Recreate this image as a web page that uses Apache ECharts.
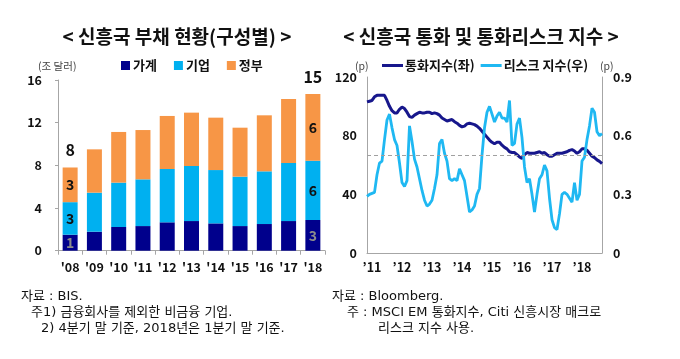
<!DOCTYPE html>
<html><head><meta charset="utf-8">
<script src="https://cdn.jsdelivr.net/npm/echarts@6/dist/echarts.min.js"></script>
<style>html,body{margin:0;padding:0;background:#fff}#c{width:680px;height:359px}</style>
</head><body><div id="c"></div>
<script>
// ---- Bar chart data (조 달러) ----
const barCategories = ["'08","'09","'10","'11","'12","'13","'14","'15","'16","'17","'18"];
const household  = [1.5, 1.78, 2.22, 2.31, 2.66, 2.78, 2.56, 2.31, 2.5, 2.78, 2.88];
const corporate  = [3.05, 3.66, 4.16, 4.38, 5.0, 5.16, 5.0, 4.63, 4.94, 5.44, 5.56];
const government = [3.25, 4.06, 4.75, 4.62, 4.97, 5.0, 4.91, 4.59, 5.25, 6.0, 6.25];
const householdLabels  = ['1','','','','','','','','','','3'];
const corporateLabels  = ['3','','','','','','','','','','6'];
const governmentLabels = ['3','','','','','','','','','','6'];
const totalLabels      = ['8','','','','','','','','','','15'];
const barYTicks = [0, 4, 8, 12, 16];

// ---- Line chart data (monthly, 2010-11 .. 2018-09) ----
const lineStart = {year: 2010, month: 11};
const currencyIndex = [103,103.5,104,106.5,107.5,107.5,107.5,107.5,104,100,97,95.5,95.5,98,99.5,98.5,96,93,92.5,94,
  95,96,95.5,95.5,96,96,95,95.5,95,94,92,91,90,90.5,91,89.5,88.5,87,86,86.5,
  88,88.5,88,87.5,86.5,85,83,81,79,77,75.5,74.5,75.5,75.5,73.5,72,71,69,68.5,68.5,
  67,65.5,64.5,67,68.5,68,68,68,68.5,69,68,68.5,67,66,66,67,68,68,68,68.5,
  69,70,70.5,69.5,68,69,71,71,70,68,66,65,63.5,62.5,61];
const riskIndex = [0.29,0.30,0.305,0.31,0.40,0.46,0.47,0.58,0.68,0.71,0.64,0.58,0.55,0.46,0.36,0.34,0.37,0.65,0.57,0.48,
  0.44,0.38,0.32,0.27,0.24,0.25,0.27,0.33,0.40,0.56,0.58,0.51,0.47,0.38,0.37,0.38,0.37,0.43,0.40,0.37,
  0.29,0.21,0.22,0.24,0.30,0.33,0.50,0.64,0.72,0.75,0.71,0.67,0.70,0.72,0.69,0.69,0.67,0.78,0.55,0.56,
  0.66,0.69,0.59,0.44,0.36,0.38,0.30,0.21,0.30,0.38,0.40,0.45,0.42,0.28,0.17,0.13,0.12,0.20,0.30,0.31,
  0.30,0.28,0.26,0.36,0.27,0.30,0.47,0.49,0.58,0.65,0.74,0.72,0.62,0.60,0.61];
const riskThreshold = 0.5;

const months = [];
{ let y = lineStart.year, m = lineStart.month;
  for (let i = 0; i < currencyIndex.length; i++) {
    months.push(y + '-' + String(m).padStart(2,'0'));
    m++; if (m > 12) { m = 1; y++; }
  } }

const FONT = '"Noto Sans CJK KR", "Noto Sans", sans-serif';
const NOTE_FONT = '13px "DejaVu Sans", "Noto Sans CJK KR", sans-serif';
const C_HH = '#00008C', C_CORP = '#00B0F0', C_GOV = '#F79646';
const C_LINE1 = '#17178C', C_LINE2 = '#1FB8F2';
const AXIS = '#A6A6A6';

function labelled(arr, labels, color) {
  return arr.map((v, i) => labels[i] ? {value: v, label: {show: true, formatter: labels[i], color: color}} : v);
}
const totals = household.map((v, i) => v + corporate[i] + government[i]);

const chart = echarts.init(document.getElementById('c'), null, {renderer: 'canvas'});
const option = {
  animation: false,
  textStyle: {fontFamily: FONT},
  legend: [
    {data: ['가계','기업','정부'], left: 116, top: 54, itemWidth: 9, itemHeight: 9, itemGap: 17,
     icon: 'rect', textStyle: {fontFamily: FONT, fontSize: 13, fontWeight: 'bold', color: '#111', padding: [0,0,0,-2]}},
    {data: ['통화지수(좌)','리스크 지수(우)'], left: 377, top: 54, itemWidth: 21, itemHeight: 3, itemGap: 6,
     icon: 'rect', textStyle: {fontFamily: FONT, fontSize: 13, fontWeight: 'bold', color: '#111', padding: [0,0,0,-3]}}
  ],
  grid: [
    {left: 58, right: 355, top: 80, bottom: 108.3},
    {left: 367, right: 78, top: 77, bottom: 106}
  ],
  xAxis: [
    {type: 'category', gridIndex: 0, data: barCategories,
     axisLine: {lineStyle: {color: AXIS}}, axisTick: {show: true, length: 4, lineStyle: {color: AXIS}},
     axisLabel: {color: '#111', fontSize: 12.5, fontWeight: 'bold', margin: 10, fontFamily: FONT, interval: 0, hideOverlap: false}},
    {type: 'category', gridIndex: 1, data: months, boundaryGap: false,
     axisLine: {lineStyle: {color: AXIS}}, axisTick: {show: false},
     axisLabel: {color: '#111', fontSize: 12.5, fontWeight: 'bold', margin: 8, fontFamily: FONT,
       interval: (idx, val) => val.endsWith('-01'),
       formatter: val => '\u2019' + val.slice(2, 4)}}
  ],
  yAxis: [
    {type: 'value', gridIndex: 0, min: barYTicks[0], max: barYTicks[barYTicks.length-1], interval: 4,
     splitLine: {show: false}, axisLine: {show: true, lineStyle: {color: AXIS}},
     axisTick: {show: true, length: 3, lineStyle: {color: AXIS}},
     axisLabel: {color: '#111', fontSize: 12.5, fontWeight: 'bold', margin: 16, fontFamily: FONT}},
    {type: 'value', gridIndex: 1, min: 0, max: 120, interval: 40, position: 'left',
     splitLine: {show: false}, axisLine: {show: true, lineStyle: {color: AXIS}},
     axisTick: {show: false},
     axisLabel: {color: '#111', fontSize: 12.5, fontWeight: 'bold', margin: 10, fontFamily: FONT}},
    {type: 'value', gridIndex: 1, min: 0, max: 0.9, interval: 0.3, position: 'right',
     splitLine: {show: false}, axisLine: {show: true, lineStyle: {color: AXIS}},
     axisTick: {show: false},
     axisLabel: {color: '#111', fontSize: 12.5, fontWeight: 'bold', margin: 11, fontFamily: FONT,
       formatter: v => v === 0 ? '0' : v.toFixed(1)}}
  ],
  series: [
    {name: '가계', type: 'bar', stack: 'd', xAxisIndex: 0, yAxisIndex: 0, barWidth: 15,
     itemStyle: {color: C_HH}, data: labelled(household, householdLabels, '#8C8C8C'),
     label: {show: false, position: 'inside', fontSize: 14, fontWeight: 'bold', fontFamily: FONT}},
    {name: '기업', type: 'bar', stack: 'd', xAxisIndex: 0, yAxisIndex: 0, barWidth: 15,
     itemStyle: {color: C_CORP}, data: labelled(corporate, corporateLabels, '#111'),
     label: {show: false, position: 'inside', fontSize: 14, fontWeight: 'bold', fontFamily: FONT}},
    {name: '정부', type: 'bar', stack: 'd', xAxisIndex: 0, yAxisIndex: 0, barWidth: 15,
     itemStyle: {color: C_GOV}, data: labelled(government, governmentLabels, '#111'),
     label: {show: false, position: 'inside', fontSize: 14, fontWeight: 'bold', fontFamily: FONT}},
    {name: 'total', type: 'scatter', xAxisIndex: 0, yAxisIndex: 0, symbolSize: 1, silent: true,
     itemStyle: {color: 'rgba(0,0,0,0)'},
     data: totals.map((v, i) => totalLabels[i]
        ? {value: v, label: {show: true, formatter: totalLabels[i], color: '#111', opacity: 1}}
        : {value: v, label: {show: false}}),
     label: {position: 'top', distance: 9, fontSize: 16, fontWeight: 'bold', color: '#111', fontFamily: FONT}},
    {name: '통화지수(좌)', type: 'line', xAxisIndex: 1, yAxisIndex: 1, data: currencyIndex,
     showSymbol: false, lineStyle: {color: C_LINE1, width: 3}, itemStyle: {color: C_LINE1}, z: 3},
    {name: '리스크 지수(우)', type: 'line', xAxisIndex: 1, yAxisIndex: 2, data: riskIndex,
     showSymbol: false, lineStyle: {color: C_LINE2, width: 2.8}, itemStyle: {color: C_LINE2}, z: 4,
     markLine: {silent: true, symbol: 'none', label: {show: false},
       lineStyle: {color: '#A0A0A0', type: [4, 3], width: 1}, data: [{yAxis: riskThreshold}]}}
  ],
  graphic: [
    {type: 'text', x: 177, y: 37, style: {text: '< 신흥국 부채 현황(구성별) >', font: 'bold 19px ' + FONT, fill: '#111', textAlign: 'center', textVerticalAlign: 'middle'}},
    {type: 'text', x: 481, y: 37, style: {text: '< 신흥국 통화 및 통화리스크 지수 >', font: 'bold 19px ' + FONT, fill: '#111', textAlign: 'center', textVerticalAlign: 'middle'}},
    {type: 'text', x: 38, y: 66, style: {text: '(조 달러)', font: '10.5px ' + FONT, fill: '#444', textVerticalAlign: 'middle'}},
    {type: 'text', x: 355, y: 66, style: {text: '(p)', font: '10.5px ' + FONT, fill: '#444', textVerticalAlign: 'middle'}},
    {type: 'text', x: 600, y: 66, style: {text: '(p)', font: '10.5px ' + FONT, fill: '#444', textVerticalAlign: 'middle'}},
    {type: 'text', x: 21, y: 297, style: {text: '자료 : BIS.', font: NOTE_FONT, fill: '#111', textVerticalAlign: 'middle'}},
    {type: 'text', x: 31, y: 313, style: {text: '주1) 금융회사를 제외한 비금융 기업.', font: NOTE_FONT, fill: '#111', textVerticalAlign: 'middle'}},
    {type: 'text', x: 41, y: 329, style: {text: '2) 4분기 말 기준, 2018년은 1분기 말 기준.', font: NOTE_FONT, fill: '#111', textVerticalAlign: 'middle'}},
    {type: 'text', x: 332, y: 297, style: {text: '자료 : Bloomberg.', font: NOTE_FONT, fill: '#111', textVerticalAlign: 'middle'}},
    {type: 'text', x: 347, y: 313, style: {text: '주 : MSCI EM 통화지수, Citi 신흥시장 매크로', font: NOTE_FONT, fill: '#111', textVerticalAlign: 'middle'}},
    {type: 'text', x: 378, y: 329, style: {text: '리스크 지수 사용.', font: NOTE_FONT, fill: '#111', textVerticalAlign: 'middle'}}
  ]
};
chart.setOption(option);
</script></body></html>
